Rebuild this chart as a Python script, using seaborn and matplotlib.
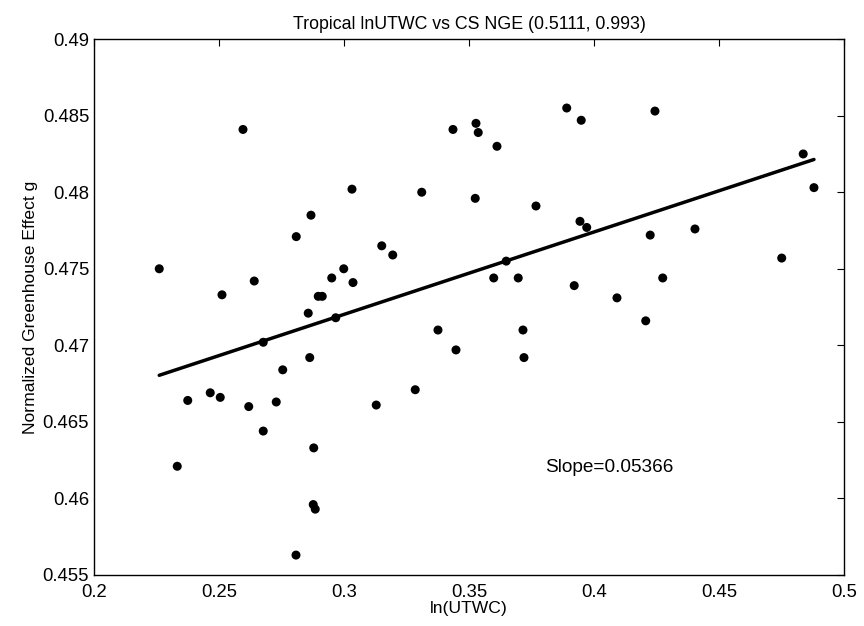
import numpy as np
import pandas as pd
import matplotlib
matplotlib.use('Agg')
import matplotlib.pyplot as plt
import seaborn as sns

# ln(UTWC) vs normalized greenhouse effect
ln_utwc = [0.2261, 0.2596, 0.3032, 0.2868, 0.2809, 0.3311, 0.3436, 0.3528, 0.3537, 0.3525,
           0.3151, 0.3195, 0.2999, 0.2951, 0.3036, 0.2641, 0.2512, 0.2897, 0.2913, 0.2857,
           0.2967, 0.2677, 0.2863, 0.2755, 0.2375, 0.2465, 0.2505, 0.2619, 0.2729, 0.2677,
           0.2879, 0.2333, 0.2877, 0.2885, 0.2808, 0.3129, 0.3285, 0.3376, 0.3448, 0.3612,
           0.3768, 0.3891, 0.3949, 0.4244, 0.4837, 0.4880, 0.3944, 0.3971, 0.4225, 0.4404,
           0.3649, 0.3599, 0.3697, 0.3921, 0.4275, 0.4092, 0.4751, 0.4207, 0.3716, 0.3720]
nge = [0.4750, 0.4841, 0.4802, 0.4785, 0.4771, 0.4800, 0.4841, 0.4845, 0.4839, 0.4796,
       0.4765, 0.4759, 0.4750, 0.4744, 0.4741, 0.4742, 0.4733, 0.4732, 0.4732, 0.4721,
       0.4718, 0.4702, 0.4692, 0.4684, 0.4664, 0.4669, 0.4666, 0.4660, 0.4663, 0.4644,
       0.4633, 0.4621, 0.4596, 0.4593, 0.4563, 0.4661, 0.4671, 0.4710, 0.4697, 0.4830,
       0.4791, 0.4855, 0.4847, 0.4853, 0.4825, 0.4803, 0.4781, 0.4777, 0.4772, 0.4776,
       0.4755, 0.4744, 0.4744, 0.4739, 0.4744, 0.4731, 0.4757, 0.4716, 0.4710, 0.4692]

x_ticks = [0.2, 0.25, 0.3, 0.35, 0.4, 0.45, 0.5]
y_ticks = [0.455, 0.46, 0.465, 0.47, 0.475, 0.48, 0.485, 0.49]

df = pd.DataFrame({'lnUTWC': ln_utwc, 'NGE': nge})

sns.set_style('white')
plt.rcParams['font.family'] = ['Liberation Sans', 'DejaVu Sans']
plt.rcParams['text.color'] = 'black'
plt.rcParams['axes.labelcolor'] = 'black'

fig = plt.figure(figsize=(8.64, 6.26), dpi=100)
ax = fig.add_axes([0.1088, 0.0815, 0.868, 0.856])

sns.regplot(data=df, x='lnUTWC', y='NGE', ax=ax, ci=None,
            scatter_kws={'s': 42, 'color': 'black', 'edgecolor': 'none', 'alpha': 1},
            line_kws={'color': 'black', 'linewidth': 2.5})

ax.text(0.3805, 0.462, 'Slope=0.05366', fontsize=13.7, va='center', color='black')

ax.set_xlim(0.2, 0.5)
ax.set_ylim(0.455, 0.49)
ax.set_xticks(x_ticks)
ax.set_xticklabels([f'{t:g}' for t in x_ticks])
ax.set_yticks(y_ticks)
ax.set_yticklabels([f'{t:g}' for t in y_ticks])
ax.tick_params(direction='in', length=5, width=0.8, top=True, right=True,
               labelsize=13.3, colors='black')
ax.tick_params(axis='x', pad=6.5)
for sp in ax.spines.values():
    sp.set_color('black')
    sp.set_linewidth(1.0)

ax.set_title('Tropical lnUTWC vs CS NGE (0.5111, 0.993)', fontsize=12.8, pad=7, color='black')
ax.set_xlabel('ln(UTWC)', fontsize=12.6, labelpad=0)
ax.set_ylabel('Normalized Greenhouse Effect g', fontsize=12.6, labelpad=3)

fig.savefig('out.png', dpi=100)
